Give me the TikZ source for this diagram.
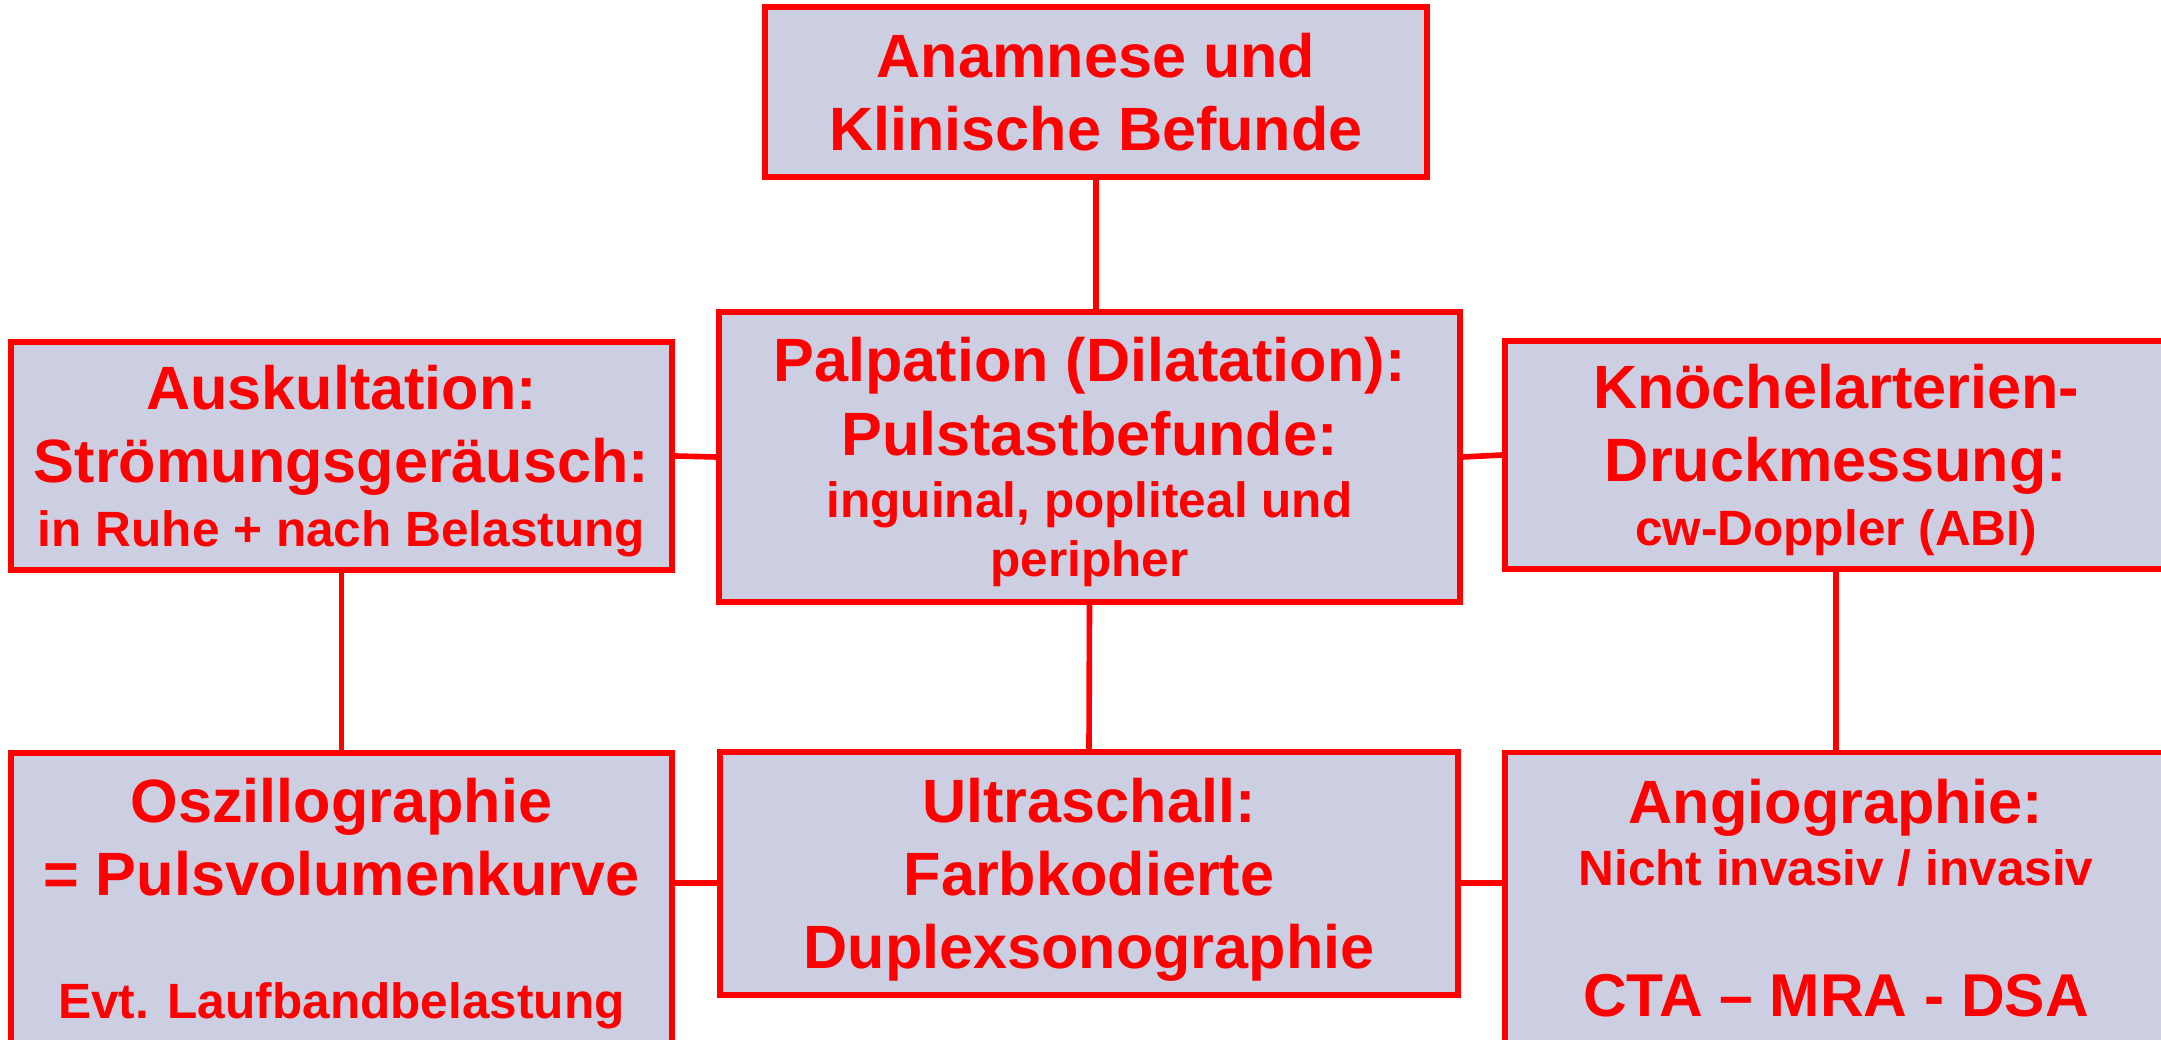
\documentclass[tikz,border=0pt]{standalone}
\usepackage{fontspec}
\setmainfont{Liberation Sans}
\usepackage{tikz}
\usetikzlibrary{calc}
\definecolor{boxfill}{RGB}{204,206,225}
\newcommand{\smalltxt}{\fontsize{14.1}{16.8}\selectfont}

\begin{document}
\begin{tikzpicture}
			[every node/.style={rectangle,draw=red,fill=boxfill,text=red,line width=1.5pt,align=center,inner sep=0pt,text depth=0pt,font=\fontsize{17.4}{20.8}\selectfont\bfseries}, edge/.style={draw=red,line width=1.6pt}]
			\useasboundingbox (0,0) rectangle (21.61,-10.40);
			\clip (0,0) rectangle (21.61,-10.40);
			\node[minimum width=6.62cm,minimum height=1.70cm] (anam) at (10.96,-0.92) {Anamnese und\\Klinische Befunde};
			\node[minimum width=6.61cm,minimum height=2.28cm] (ausk) at (3.415,-4.56) {Auskultation:\\Strömungsgeräusch:\\[-2.7pt]\smalltxt in Ruhe + nach Belastung};
			\node[minimum width=7.41cm,minimum height=2.90cm] (palp) at (10.895,-4.57) {Palpation (Dilatation):\\Pulstastbefunde:\\[-3.1pt]\smalltxt inguinal, popliteal und\\[-4pt]\smalltxt peripher};
			\node[minimum width=6.62cm,minimum height=2.28cm] (knoe) at (18.36,-4.55) {Knöchelarterien-\\Druckmessung:\\[-2.7pt]\smalltxt cw-Doppler (ABI)};
			\node[minimum width=6.61cm,minimum height=2.90cm] (oszi) at (3.415,-8.98) {Oszillographie\\= Pulsvolumenkurve\\[14.2pt]\smalltxt Evt. Laufbandbelastung};
			\node[minimum width=7.38cm,minimum height=2.43cm] (ultra) at (10.89,-8.735) {Ultraschall:\\Farbkodierte\\Duplexsonographie};
			\node[minimum width=6.62cm,minimum height=2.90cm] (angio) at (18.36,-8.975) {Angiographie:\\[-3.1pt]\smalltxt Nicht invasiv / invasiv\\[16.5pt]\fontsize{17.2}{20.8}\selectfont CTA – MRA - DSA};
			
			\draw[edge] (anam.south) to (anam.south |- palp.north);
			\foreach \from/\to in {ausk/palp,palp/knoe}
			\draw[edge] (\from.east) to (\to.west);
			\foreach \from/\to in {ausk/oszi,palp/ultra,knoe/angio}
			\draw[edge] (\from.south) to (\to.north);
			\foreach \from/\to in {oszi/ultra,ultra/angio}
			\draw[edge] ($(\from.east |- ultra.west)+(0,-0.095)$) to ($(\to.west |- ultra.west)+(0,-0.095)$);
			\end{tikzpicture}
\end{document}
